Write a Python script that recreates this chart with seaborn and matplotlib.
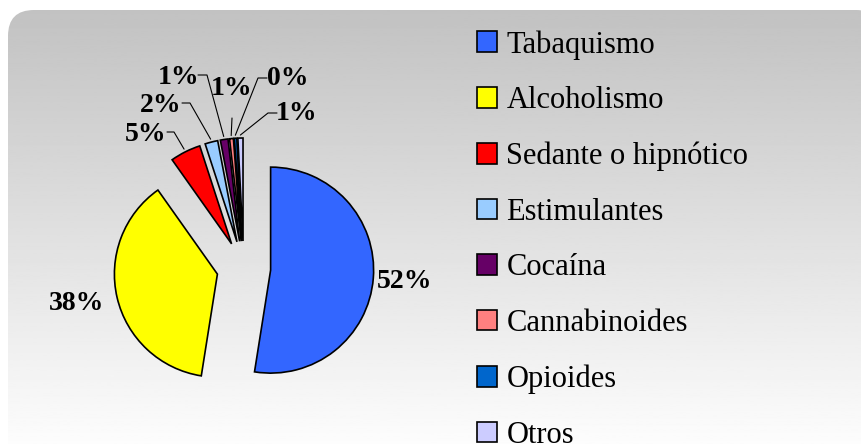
import numpy as np
import seaborn as sns
import matplotlib.pyplot as plt
from matplotlib.patches import FancyBboxPatch

# data
categories = ["Tabaquismo", "Alcoholismo", "Sedante o hipnótico", "Estimulantes",
              "Cocaína", "Cannabinoides", "Opioides", "Otros"]
values = [52.5, 37.7, 4.8, 2.0, 1.2, 0.6, 0.4, 0.8]
palette = ["#3366FF", "#FFFF00", "#FF0000", "#99CCFF",
           "#660066", "#FF8080", "#0066CC", "#CCCCFF"]

# layout (pixel units, y measured from top)
W, H = 862, 444
center = (243.7, H - 268)
radius = 103
explode = [27] * len(values)
label_pos = [(405, 281), (77, 303), (146, 134), (161, 105),
             (179, 77), (232, 88), (288, 78), (297, 113)]
# start of leader line (None = no leader line), elbow direction
leader_start = [None, None, (167, 132), (182, 103), (198, 75),
                (232, 118), (267, 78), (277, 113)]
elbow = [0, 0, 7, 8, 9, 0, -9, -9]

sns.set_theme(style="white")
plt.rcParams['font.family'] = ['Liberation Serif', 'DejaVu Serif']

fig = plt.figure(figsize=(W / 100, H / 100), dpi=100)
ax = fig.add_axes([0, 0, 1, 1])

# rounded gradient background
bg = FancyBboxPatch((8, -40), W + 20 - 8, H - 10 + 40,
                    boxstyle="round,pad=0,rounding_size=26",
                    facecolor="none", edgecolor="none")
ax.add_patch(bg)
grad = np.linspace(0.76, 0.99, 256).reshape(-1, 1)
img = ax.imshow(grad, cmap="gray", vmin=0, vmax=1, aspect="auto",
                extent=(0, W, 0, H - 10), origin="upper", zorder=0)
img.set_clip_path(bg)

wedges, _ = ax.pie(values, colors=palette, startangle=90, counterclock=False,
                   explode=explode, radius=radius, center=center,
                   wedgeprops=dict(edgecolor="black", linewidth=1.2))

total = sum(values)
for i, w in enumerate(wedges):
    txt = f"{values[i] / total * 100:.0f}%"
    lx, ly = label_pos[i]
    ax.text(lx, H - ly, txt, ha="center", va="center", fontsize=20,
            fontweight="bold", color="black")
    if leader_start[i] is not None:
        mid = np.deg2rad((w.theta1 + w.theta2) / 2)
        ex = w.center[0] + (w.r + 3) * np.cos(mid)
        ey = w.center[1] + (w.r + 3) * np.sin(mid)
        sx, sy = leader_start[i]
        xs = [sx, sx + elbow[i], ex]
        ys = [H - sy, H - sy, ey]
        ax.plot(xs, ys, color="black", linewidth=0.8)

ax.legend(wedges, categories, loc="upper left", bbox_to_anchor=(477 / W, 1 - 30 / H),
          frameon=False, fontsize=22, handlelength=0.66, handleheight=0.66,
          handletextpad=0.3, labelspacing=0.87, borderpad=0, borderaxespad=0,
          labelcolor="black")

ax.set_xlim(0, W)
ax.set_ylim(0, H)
ax.set_aspect("equal")
ax.axis("off")

fig.savefig("out.png", dpi=100)
